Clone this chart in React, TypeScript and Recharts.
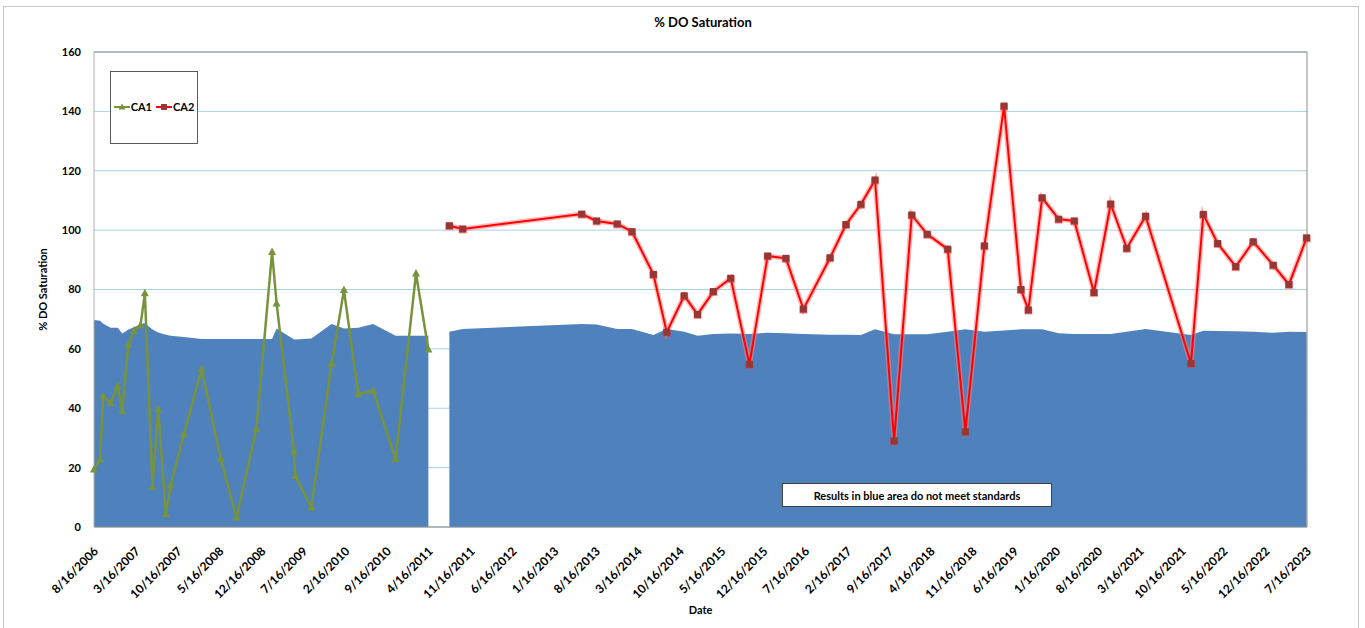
import React from 'react';
import {
  ComposedChart,
  Area,
  Line,
  XAxis,
  YAxis,
  CartesianGrid,
  Legend,
  ReferenceLine,
} from 'recharts';

const FONT = 'Lato, "Open Sans", sans-serif';

// CA1 samples (2006 - 2011)
const ca1Dates = [
  '8/16/2006', '9/16/2006', '10/2/2006', '11/9/2006', '12/15/2006', '1/7/2007', '2/7/2007',
  '3/8/2007', '4/10/2007', '5/2/2007', '6/10/2007', '7/9/2007', '8/17/2007', '9/10/2007',
  '11/17/2007', '2/15/2008', '5/22/2008', '8/11/2008', '11/20/2008', '2/8/2009', '3/3/2009',
  '5/31/2009', '6/6/2009', '8/27/2009', '12/8/2009', '2/9/2010', '4/23/2010', '7/8/2010',
  '10/30/2010', '2/11/2011', '4/15/2011',
];
const ca1Values = [
  19.4, 22.8, 44.1, 41.7, 47.5, 39.1, 61.5, 66.1, 68.0, 78.7, 13.6, 39.6, 4.3, 14.0, 31.3,
  53.2, 23.1, 3.1, 33.1, 92.6, 75.3, 25.4, 17.2, 6.6, 55.0, 79.8, 44.8, 45.9, 22.9, 85.4, 59.8,
];
const ca1Standard = [
  69.7, 69.5, 68.5, 67.1, 67.1, 65.2, 66.5, 67.3, 68.4, 68.6, 66.5, 65.5, 64.8, 64.4, 64.0,
  63.3, 63.3, 63.3, 63.3, 63.3, 66.9, 63.2, 63.2, 63.5, 68.4, 66.9, 67.1, 68.4, 64.4, 64.4, 64.4,
];

// CA2 samples (2011 - 2023)
const ca2Dates = [
  '7/31/2011', '10/7/2011', '6/4/2013', '8/19/2013', '12/2/2013', '2/15/2014', '6/4/2014',
  '8/11/2014', '11/8/2014', '1/15/2015', '4/5/2015', '7/3/2015', '10/6/2015', '1/7/2016',
  '4/9/2016', '7/7/2016', '11/20/2016', '2/9/2017', '4/26/2017', '7/7/2017', '10/12/2017',
  '1/10/2018', '3/30/2018', '7/12/2018', '10/10/2018', '1/15/2019', '4/25/2019', '7/20/2019',
  '8/27/2019', '11/5/2019', '1/28/2020', '4/17/2020', '7/26/2020', '10/19/2020', '1/9/2021',
  '4/15/2021', '12/2/2021', '2/3/2022', '4/17/2022', '7/18/2022', '10/15/2022', '1/25/2023',
  '4/15/2023', '7/14/2023',
];
const ca2Values = [
  101.5, 100.4, 105.4, 103.1, 102.1, 99.5, 85.1, 65.6, 77.9, 71.6, 79.3, 83.8, 54.8, 91.3,
  90.5, 73.4, 90.7, 101.9, 108.7, 116.9, 29.0, 105.1, 98.6, 93.6, 32.1, 94.7, 141.8, 80.0,
  73.1, 110.9, 103.7, 103.1, 79.0, 108.8, 93.9, 104.7, 55.1, 105.3, 95.5, 87.7, 96.1, 88.2,
  81.7, 97.4,
];
const ca2Standard = [
  65.8, 66.7, 68.4, 68.2, 66.7, 66.7, 64.7, 66.7, 65.8, 64.4, 65.0, 65.2, 65.0, 65.4, 65.3,
  65.0, 64.8, 64.8, 64.7, 66.6, 64.9, 64.9, 64.9, 65.8, 66.6, 65.8, 66.2, 66.6, 66.6, 66.6,
  65.3, 65.0, 65.0, 65.0, 65.8, 66.7, 64.7, 66.1, 66.0, 65.9, 65.8, 65.4, 65.8, 65.7,
];

const xTickLabels = [
  '8/16/2006', '3/16/2007', '10/16/2007', '5/16/2008', '12/16/2008', '7/16/2009', '2/16/2010',
  '9/16/2010', '4/16/2011', '11/16/2011', '6/16/2012', '1/16/2013', '8/16/2013', '3/16/2014',
  '10/16/2014', '5/16/2015', '12/16/2015', '7/16/2016', '2/16/2017', '9/16/2017', '4/16/2018',
  '11/16/2018', '6/16/2019', '1/16/2020', '8/16/2020', '3/16/2021', '10/16/2021', '5/16/2022',
  '12/16/2022', '7/16/2023',
];
const yTicks = [0, 20, 40, 60, 80, 100, 120, 140, 160];

const toDay = (s: string) => {
  const [m, d, y] = s.split('/').map(Number);
  return Date.UTC(y, m - 1, d) / 86400000;
};
const fmtDay = (v: number) => {
  const dt = new Date(Math.round(v) * 86400000);
  return `${dt.getUTCMonth() + 1}/${dt.getUTCDate()}/${dt.getUTCFullYear()}`;
};

const chartData = [
  ...ca1Dates.map((d, i) => ({ t: toDay(d), ca1: ca1Values[i], std1: ca1Standard[i] })),
  ...ca2Dates.map((d, i) => ({ t: toDay(d), ca2: ca2Values[i], std2: ca2Standard[i] })),
];
const xTicks = xTickLabels.map(toDay);

const DateTick = ({ x, y, payload }: any) => (
  <text
    x={0}
    y={0}
    textAnchor="end"
    transform={`translate(${x + 5},${y + 17}) rotate(-45)`}
    fontFamily={FONT}
    fontWeight={700}
    fontSize={12}
    fill="#000"
  >
    {fmtDay(payload.value)}
  </text>
);

const YTitle = (props: any) => {
  const vb = props.viewBox || {};
  const cx = 42;
  const cy = (vb.y ?? 52) + (vb.height ?? 475) / 2;
  return (
    <text
      x={cx}
      y={cy}
      transform={`rotate(-90 ${cx} ${cy})`}
      textAnchor="middle"
      dominantBaseline="central"
      fontFamily={FONT}
      fontWeight={700}
      fontSize={11}
      fill="#000"
    >
      % DO Saturation
    </text>
  );
};

const TriangleDot = (props: any) => {
  const { cx, cy, index } = props;
  if (cx == null || cy == null) return <g key={`tri-${index}`} />;
  return (
    <polygon
      key={`tri-${index}`}
      points={`${cx},${cy - 4.5} ${cx + 4},${cy + 3} ${cx - 4},${cy + 3}`}
      fill="#77933C"
    />
  );
};

const SquareDot = (props: any) => {
  const { cx, cy, index } = props;
  if (cx == null || cy == null) return <g key={`sq-${index}`} />;
  return (
    <g key={`sq-${index}`}>
      <rect x={cx - 4} y={cy - 2.5} width={8} height={7} fill="#ff3030" opacity={0.55} />
      <rect x={cx - 3.5} y={cy - 3.5} width={7} height={7} fill="#953735" />
    </g>
  );
};

const LegendIcon = ({ color, shape }: { color: string; shape: string }) => (
  <svg width={16} height={10} style={{ display: 'block' }}>
    <line x1={0} y1={5} x2={16} y2={5} stroke={color} strokeWidth={2} />
    {shape === 'triangle' ? (
      <polygon points="8,1.5 11.5,7.5 4.5,7.5" fill={color} />
    ) : (
      <rect x={5} y={2} width={6} height={6} fill="#953735" />
    )}
  </svg>
);

const renderLegend = (props: any) => {
  // only the named series (the glow line under CA2 has no name)
  const items = (props.payload || []).filter(
    (p: any) => p.type !== 'none' && p.value !== p.dataKey,
  );
  return (
    <div
      style={{
        boxSizing: 'border-box',
        width: 88,
        height: 73,
        border: '1px solid #595959',
        background: '#fff',
        display: 'flex',
        alignItems: 'center',
        justifyContent: 'center',
        paddingBottom: 2,
        fontFamily: FONT,
        fontWeight: 700,
        fontSize: 11,
        color: '#000',
      }}
    >
      {items.map((p: any, i: number) => (
        <div
          key={p.dataKey + i}
          style={{ display: 'flex', alignItems: 'center', marginLeft: i ? 4 : 0 }}
        >
          <LegendIcon color={p.color} shape={p.dataKey === 'ca1' ? 'triangle' : 'square'} />
          <span style={{ marginLeft: 1 }}>{p.value}</span>
        </div>
      ))}
    </div>
  );
};

export default function App() {
  return (
    <div
      style={{
        position: 'absolute',
        left: 0,
        top: 0,
        width: 1365,
        height: 628,
        overflow: 'hidden',
        background: '#fff',
        fontFamily: FONT,
      }}
    >
      <div
        style={{
          position: 'absolute',
          left: 3,
          top: 6,
          width: 1354,
          height: 640,
          border: '1px solid #c8c8c8',
        }}
      />
      <ComposedChart
        width={1365}
        height={628}
        data={chartData}
        margin={{ top: 52, right: 58, left: 0, bottom: 0 }}
      >
        <CartesianGrid horizontal vertical={false} stroke="#A9D2E2" />
        <XAxis
          dataKey="t"
          type="number"
          domain={[xTicks[0], xTicks[xTicks.length - 1]]}
          ticks={xTicks}
          interval={0}
          tick={<DateTick />}
          tickLine={false}
          tickSize={6}
          axisLine={{ stroke: '#8c8c8c' }}
          height={101}
          label={{
            value: 'Date',
            position: 'insideBottom',
            offset: 14,
            fill: '#000',
            fontWeight: 700,
            fontSize: 11,
            fontFamily: FONT,
          }}
        />
        <YAxis
          type="number"
          domain={[0, 160]}
          ticks={yTicks}
          width={94}
          tickLine={false}
          tickSize={11}
          axisLine={{ stroke: '#b0b0b0' }}
          tick={{ fill: '#000', fontSize: 11, fontWeight: 700, fontFamily: FONT }}
          label={<YTitle />}
        />
        <ReferenceLine y={160} stroke="#8c8c8c" />
        <ReferenceLine x={xTicks[xTicks.length - 1]} stroke="#8c8c8c" />
        <Area
          dataKey="std1"
          type="linear"
          fill="#4F81BD"
          fillOpacity={1}
          stroke="none"
          legendType="none"
          isAnimationActive={false}
        />
        <Area
          dataKey="std2"
          type="linear"
          fill="#4F81BD"
          fillOpacity={1}
          stroke="none"
          legendType="none"
          isAnimationActive={false}
        />
        <Line
          dataKey="ca1"
          name="CA1"
          type="linear"
          stroke="#77933C"
          strokeWidth={2.5}
          dot={TriangleDot}
          activeDot={false}
          connectNulls
          isAnimationActive={false}
        />
        <Line
          dataKey="ca2"
          type="linear"
          stroke="#ff8080"
          strokeOpacity={0.55}
          strokeWidth={5}
          dot={false}
          activeDot={false}
          legendType="none"
          connectNulls
          isAnimationActive={false}
        />
        <Line
          dataKey="ca2"
          name="CA2"
          type="linear"
          stroke="#FF0000"
          strokeWidth={2}
          dot={SquareDot}
          activeDot={false}
          connectNulls
          isAnimationActive={false}
        />
        <Legend
          layout="horizontal"
          verticalAlign="middle"
          align="center"
          content={renderLegend}
          wrapperStyle={{ left: 110, top: 71, width: 88, height: 73 }}
        />
      </ComposedChart>
      <div
        style={{
          position: 'absolute',
          left: 603,
          top: 14,
          width: 200,
          textAlign: 'center',
          fontWeight: 700,
          fontSize: 13,
          lineHeight: '16px',
          color: '#000',
        }}
      >
        % DO Saturation
      </div>
      <div
        style={{
          position: 'absolute',
          left: 782,
          top: 483,
          width: 270,
          height: 24,
          boxSizing: 'border-box',
          border: '1px solid #404040',
          background: '#fff',
          display: 'flex',
          alignItems: 'center',
          justifyContent: 'center',
          fontWeight: 700,
          fontSize: 11,
          color: '#000',
        }}
      >
        Results in blue area do not meet standards
      </div>
    </div>
  );
}
